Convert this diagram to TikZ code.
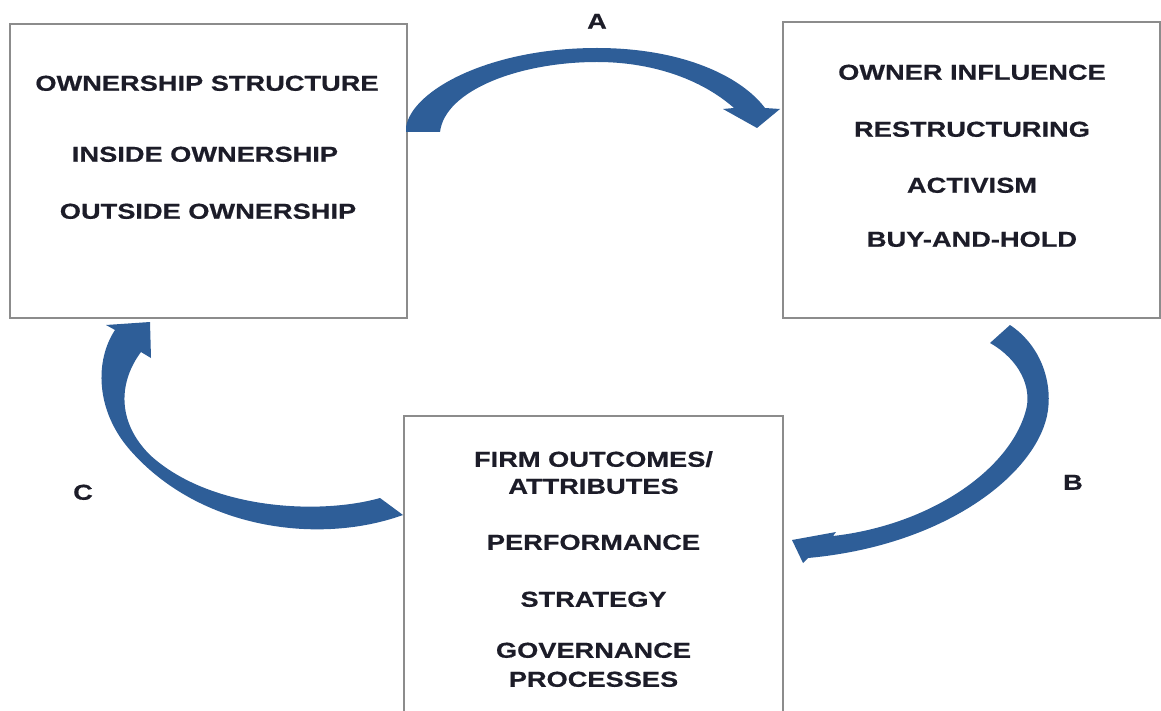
\documentclass[tikz,border=0pt]{standalone}
\usepackage{fontspec}
\setmainfont{Liberation Sans}[FakeStretch=1.26,FakeBold=0.6]
\begin{document}
\definecolor{boxgray}{HTML}{8C8C8C}
\definecolor{arrowblue}{HTML}{2E5E98}
\definecolor{inkdark}{HTML}{1C1C28}
\begin{tikzpicture}[x=1pt,y=-1pt,
  panel/.style={draw=boxgray, line width=1.6pt, fill=white, inner sep=0pt},
  caps/.style={anchor=base, inner sep=0pt, text=inkdark,
    font=\fontsize{21.6}{24}\selectfont\bfseries},
  blockarrow/.style={fill=arrowblue, draw=none}]
\useasboundingbox (0,0) rectangle (1161,711);

% boxes
\node[panel, minimum width=397pt, minimum height=294pt] (own) at (208.5,171) {};
\node[panel, minimum width=377pt, minimum height=296pt] (infl) at (971.5,170) {};
\node[panel, minimum width=379pt, minimum height=297pt] (firm) at (593.5,564.5) {};

% ownership structure
\node[caps] (own1) at (207,90.75)  {OWNERSHIP STRUCTURE};
\node[caps] (own2) at (205,161.75) {INSIDE OWNERSHIP};
\node[caps] (own3) at (208,218.75) {OUTSIDE OWNERSHIP};

% owner influence
\node[caps] (inf1) at (972,79.75)  {OWNER INFLUENCE};
\node[caps] (inf2) at (972,136.75) {RESTRUCTURING};
\node[caps] (inf3) at (972,192.75) {ACTIVISM};
\node[caps] (inf4) at (972,246.75) {BUY-AND-HOLD};

% firm outcomes
\node[caps] (frm1) at (593.5,466.75) {FIRM OUTCOMES/};
\node[caps] (frm2) at (593.5,493.75) {ATTRIBUTES};
\node[caps] (frm3) at (593.5,549.75) {PERFORMANCE};
\node[caps] (frm4) at (593.5,606.75) {STRATEGY};
\node[caps] (frm5) at (593.5,657.75) {GOVERNANCE};
\node[caps] (frm6) at (593.5,686.75) {PROCESSES};

% path labels
\node[caps] (labA) at (597,28.75)   {A};
\node[caps] (labB) at (1073,489.75) {B};
\node[caps] (labC) at (83,499.75)   {C};

% A: ownership -> influence
\fill[blockarrow]
  (406,132) -- (406,127)
  .. controls (412,90) and (490,48) .. (597,48)
  .. controls (680,48) and (740,75) .. (765,108)
  -- (780,109) -- (757,128) -- (723,109) -- (734,108)
  .. controls (700,78) and (650,62) .. (597,62)
  .. controls (520,62) and (445,90) .. (440,132) -- cycle;

% B: influence -> outcomes
\fill[blockarrow]
  (990,343) -- (1010,325)
  .. controls (1040,345) and (1052,380) .. (1048,410)
  .. controls (1040,470) and (950,545) .. (808,558)
  -- (803,563) -- (792,540) -- (836,532) -- (833,536)
  .. controls (930,525) and (1010,470) .. (1026,410)
  .. controls (1032,388) and (1020,360) .. (990,343) -- cycle;

% C: outcomes -> ownership
\fill[blockarrow]
  (380,498) -- (403,515)
  .. controls (320,545) and (200,530) .. (130,450)
  .. controls (95,410) and (95,360) .. (115,330)
  -- (106,325) -- (150,322) -- (151,358) -- (141,352)
  .. controls (120,380) and (115,420) .. (150,455)
  .. controls (210,510) and (320,515) .. (380,498) -- cycle;
\end{tikzpicture}
\end{document}
